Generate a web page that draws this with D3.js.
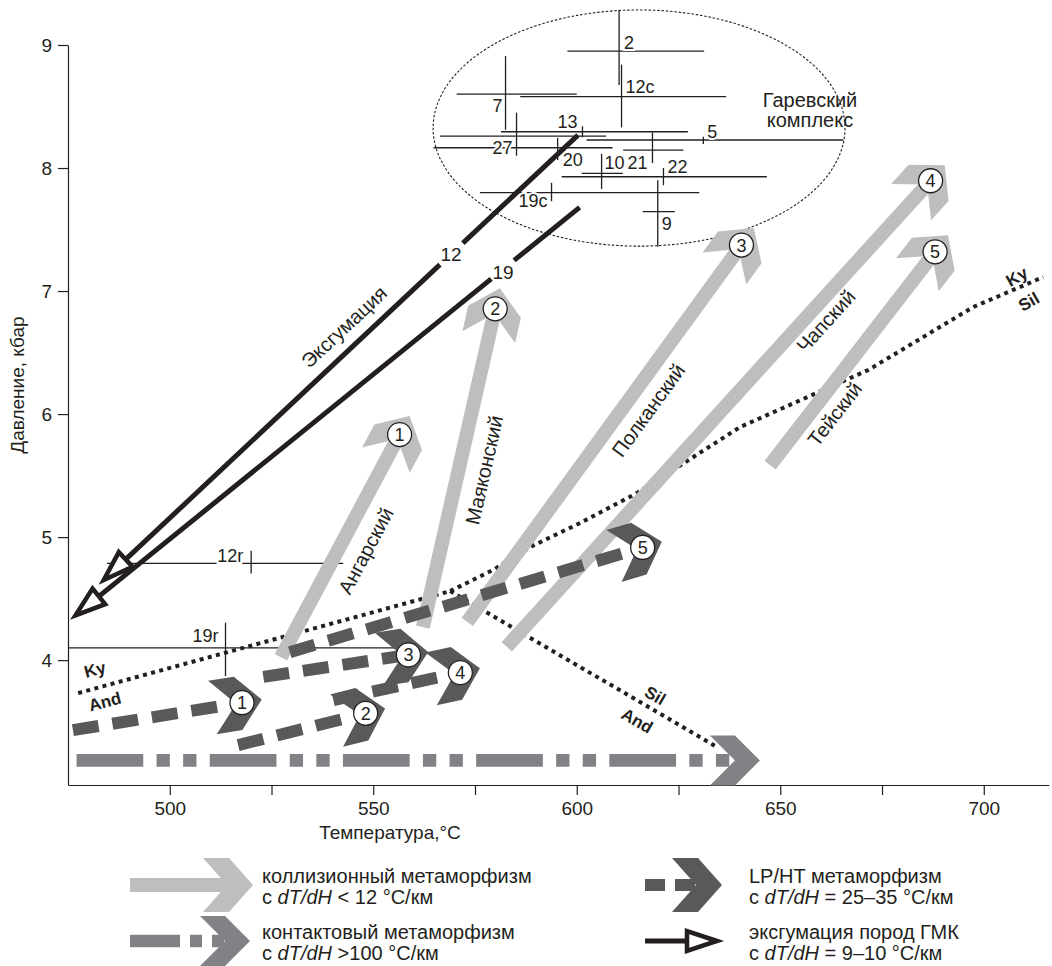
<!doctype html>
<html>
<head>
<meta charset="utf-8">
<title>P-T тренды метаморфизма</title>
<script src="https://cdn.jsdelivr.net/npm/d3@7"></script>
<style>
  body { margin: 0; background: #fff; }
  text { font-family: "Liberation Sans", Arial, sans-serif; fill: #231f20; }
</style>
</head>
<body>
<svg id="chart" width="1052" height="966"></svg>
<script>
// ---------- data (T in °C, P in kbar) ----------
const tempTicks = [500, 525, 550, 575, 600, 625, 650, 675, 700];
const tempLabels = [500, 550, 600, 650, 700];
const pressTicks = [4, 5, 6, 7, 8, 9];

// P-T estimates with error bars
const crossData = [
  {id: "2",   t: 610.4, p: 8.95,  tMin: 597.7, tMax: 631.3, pMin: 8.675, pMax: 9.285},
  {id: "12c", t: 611.0, p: 8.58,  tMin: 586.1, tMax: 636.7, pMin: 8.33,  pMax: 8.84},
  {id: "7",   t: 582.5, p: 8.60,  tMin: 570.5, tMax: 600.0, pMin: 8.31,  pMax: 8.91},
  {id: "27",  t: 585.2, p: 8.26,  tMin: 566.4, tMax: 607.2, pMin: 8.10,  pMax: 8.45},
  {id: "13",  t: 601.4, p: 8.295, tMin: 581.4, tMax: 627.3, pMin: 8.25,  pMax: 8.34},
  {id: "5",   t: 631.1, p: 8.228, tMin: 602.4, tMax: 665.5, pMin: 8.195, pMax: 8.255},
  {id: "20",  t: 595.3, p: 8.165, tMin: 564.8, tMax: 608.8, pMin: 8.065, pMax: 8.245},
  {id: "21",  t: 618.6, p: 8.146, tMin: 611.4, tMax: 626.2, pMin: 8.04,  pMax: 8.29},
  {id: "10",  t: 606.1, p: 7.957, tMin: 601.2, tMax: 611.3, pMin: 7.83,  pMax: 8.115},
  {id: "22",  t: 621.3, p: 7.929, tMin: 596.3, tMax: 646.7, pMin: 7.86,  pMax: 8.00},
  {id: "19c", t: 593.8, p: 7.80,  tMin: 576.2, tMax: 630.1, pMin: 7.73,  pMax: 7.88},
  {id: "9",   t: 619.9, p: 7.645, tMin: 616.2, tMax: 624.1, pMin: 7.36,  pMax: 7.90},
  {id: "12r", t: 520.0, p: 4.786, tMin: 484.6, tMax: 542.6, pMin: 4.705, pMax: 4.889},
  {id: "19r", t: 513.7, p: 4.10,  tMin: 475.0, tMax: 559.0, pMin: 3.87,  pMax: 4.305}
];

const garevEllipse = {t: 615.3, p: 8.325, dt: 50.6, dp: 0.96};

// Al2SiO5 boundaries
const kyAnd = [[477.5, 3.732], [568.9, 4.561]];
const kySil = [[568.9, 4.561], [579.4, 4.732], [588.5, 4.919], [600.8, 5.114], [614.8, 5.358],
               [640.1, 5.894], [671.6, 6.358], [697.4, 6.870], [714.6, 7.114]];
const andSil = [[568.9, 4.561], [634.4, 3.295]];

// collision metamorphism (light grey)
const collision = [
  {id: 1, name: "Ангарский",  from: [527.3, 4.024], to: [558.9, 5.984]},
  {id: 2, name: "Маяконский", from: [562.2, 4.268], to: [581.1, 7.022]},
  {id: 3, name: "Полканский", from: [573.1, 4.311], to: [643.5, 7.512]},
  {id: 4, name: "Чапский",    from: [582.8, 4.108], to: [690.4, 8.023]},
  {id: 5, name: "Тейский",    from: [647.5, 5.585], to: [691.2, 7.454]}
];

// LP/HT metamorphism (dark grey dashed)
const lpht = [
  {id: 1, from: [476.2, 3.431], to: [522.6, 3.680]},
  {id: 2, from: [516.8, 3.309], to: [552.9, 3.607]},
  {id: 3, from: [523.0, 3.864], to: [563.5, 4.067]},
  {id: 4, from: [540.2, 3.675], to: [576.2, 3.933]},
  {id: 5, from: [529.5, 4.065], to: [620.9, 4.962]}
];

// contact metamorphism
const contact = {from: [477.1, 3.185], to: [645.0, 3.185]};

// exhumation
const exhumation = [
  {id: "12", from: [600.3, 8.268], to: [482.9, 4.624]},
  {id: "19", from: [600.7, 7.680], to: [475.9, 4.339]}
];

// ---------- layout ----------
const black = "#231f20", lightGray = "#bcbec0", darkGray = "#58595b", midGray = "#808285";
const HEAD = {h: 24, w: 27, t: 26};

// label offsets for the crosses: dx, dy (px), anchor
const crossLabelPos = {
  "2": [5, -9, "start"], "12c": [4, -10, "start"], "7": [-3, 11, "end"], "27": [-4, 11, "end"],
  "13": [-5, -10, "end"], "5": [4, -8, "start"], "20": [5, 12, "start"], "21": [-5, 12, "end"],
  "10": [3, -11, "start"], "22": [4, -10, "start"], "19c": [-4, 8, "end"], "9": [4, 12, "start"],
  "12r": [-8, -8, "end"], "19r": [-7, -12, "end"]
};
// collision arrow names: fraction along the arrow, side offset (px)
const collisionLabelPos = [[0.49, 25], [0.48, 25], [0.57, 22], [0.70, 17], [0.275, 20]];
// gaps in exhumation lines (fractions of length) for the labels
const exhGap = [[0.241, 0.289], [0.129, 0.174]];
const exhLabelPos = [[451, 254], [503, 272]];

const phaseLabels = [
  {text: "Ky", x: 95, y: 670, r: -15}, {text: "And", x: 105, y: 702, r: -15},
  {text: "Sil", x: 655, y: 696, r: 30}, {text: "And", x: 637, y: 721, r: 30},
  {text: "Ky", x: 1017, y: 277, r: -30}, {text: "Sil", x: 1029, y: 302, r: -30}
];

const svg = d3.select("#chart");

const x = d3.scaleLinear().domain([475, 716]).range([68, 1048.9]);
const y = d3.scaleLinear().domain([2.985, 9]).range([785, 45]);

// helpers
function unit(a, b) {
  const dx = b[0] - a[0], dy = b[1] - a[1], L = Math.hypot(dx, dy);
  return {u: [dx / L, dy / L], len: L};
}
function along(p, u, a, b) {
  return [p[0] + a * u[0] - b * u[1], p[1] + a * u[1] + b * u[0]];
}
function chevron(tip, u, hd) {
  return [along(tip, u, 0, 0), along(tip, u, -hd.h, -hd.w), along(tip, u, -hd.h - hd.t, -hd.w),
          along(tip, u, -hd.t, 0), along(tip, u, -hd.h - hd.t, hd.w), along(tip, u, -hd.h, hd.w)];
}
const px = d => [x(d[0]), y(d[1])];

function drawChevronArrow(g, p0, p1, color, width, dash, hd) {
  const {u} = unit(p0, p1);
  const end = along(p1, u, -hd.t, 0);
  g.append("line")
    .attr("x1", p0[0]).attr("y1", p0[1]).attr("x2", end[0]).attr("y2", end[1])
    .attr("stroke", color).attr("stroke-width", width)
    .attr("stroke-dasharray", dash);
  g.append("polygon").attr("points", chevron(p1, u, hd).join(" ")).attr("fill", color);
  return u;
}
function drawOpenArrow(g, p0, p1, width, gap) {
  const {u, len} = unit(p0, p1);
  const base = along(p1, u, -35, 0);
  const line = g.append("line")
    .attr("x1", p0[0]).attr("y1", p0[1]).attr("x2", base[0]).attr("y2", base[1])
    .attr("stroke", black).attr("stroke-width", width);
  if (gap) {
    const L = len - 35;
    line.attr("stroke-dasharray", `${gap[0] * len} ${(gap[1] - gap[0]) * len} ${L}`);
  }
  const tri = [along(p1, u, -5, 0), along(p1, u, -35, -10), along(p1, u, -35, 10)];
  g.append("polygon").attr("points", tri.join(" "))
    .attr("fill", "#fff").attr("stroke", black).attr("stroke-width", 4.5)
    .attr("stroke-linejoin", "miter");
}
function numberCircle(g, c, n) {
  g.append("circle").attr("cx", c[0]).attr("cy", c[1]).attr("r", 12)
    .attr("fill", "#fff").attr("stroke", black).attr("stroke-width", 1.3);
  g.append("text").attr("x", c[0]).attr("y", c[1] + 6.5)
    .attr("text-anchor", "middle").attr("font-size", 18).text(n);
}

// ---------- axes ----------
const xAxis = d3.axisBottom(x).tickValues(tempTicks).tickSize(10).tickSizeOuter(0).tickPadding(7)
  .tickFormat(d => tempLabels.includes(d) ? d : "");
svg.append("g").attr("transform", `translate(0,${y.range()[0]})`)
  .call(xAxis)
  .attr("color", black).attr("font-size", 19).attr("font-family", null)
  .call(g => g.selectAll("path, line").attr("stroke-width", 1.2));

const yAxis = d3.axisLeft(y).tickValues(pressTicks).tickSize(10).tickSizeOuter(0).tickPadding(6)
  .tickFormat(d3.format("d"));
svg.append("g").attr("transform", `translate(${x.range()[0]},0)`)
  .call(yAxis)
  .attr("color", black).attr("font-size", 19).attr("font-family", null)
  .call(g => g.selectAll("path, line").attr("stroke-width", 1.2));

svg.append("text").attr("x", 390).attr("y", 839).attr("text-anchor", "middle")
  .attr("font-size", 19).text("Температура,°C");
svg.append("text").attr("transform", "translate(24,385) rotate(-90)").attr("text-anchor", "middle")
  .attr("font-size", 19).text("Давление, кбар");

// ---------- Garevka complex ----------
const plot = svg.append("g");
plot.append("ellipse")
  .attr("cx", x(garevEllipse.t)).attr("cy", y(garevEllipse.p))
  .attr("rx", x(garevEllipse.t + garevEllipse.dt) - x(garevEllipse.t))
  .attr("ry", y(garevEllipse.p - garevEllipse.dp) - y(garevEllipse.p))
  .attr("fill", "none").attr("stroke", black).attr("stroke-width", 1.1)
  .attr("stroke-dasharray", "2.5 1.8");
plot.append("text").attr("x", 810).attr("y", 107).attr("text-anchor", "middle")
  .attr("font-size", 20).text("Гаревский");
plot.append("text").attr("x", 810).attr("y", 127).attr("text-anchor", "middle")
  .attr("font-size", 20).text("комплекс");

const crosses = plot.append("g").attr("stroke", black).attr("stroke-width", 1.3);
crossData.forEach(d => {
  crosses.append("line").attr("x1", x(d.tMin)).attr("x2", x(d.tMax)).attr("y1", y(d.p)).attr("y2", y(d.p));
  crosses.append("line").attr("x1", x(d.t)).attr("x2", x(d.t)).attr("y1", y(d.pMin)).attr("y2", y(d.pMax));
});
crossData.forEach(d => {
  const [dx, dy, anchor] = crossLabelPos[d.id];
  plot.append("text").attr("x", x(d.t) + dx).attr("y", y(d.p) + dy + 6.5)
    .attr("text-anchor", anchor).attr("font-size", 18)
    .attr("stroke", "#fff").attr("stroke-width", 4).attr("paint-order", "stroke")
    .text(d.id);
});

// ---------- Al2SiO5 boundaries ----------
const line = d3.line().x(d => x(d[0])).y(d => y(d[1]));
[kyAnd, kySil, andSil].forEach(pts => {
  plot.append("path").attr("d", line(pts)).attr("fill", "none")
    .attr("stroke", black).attr("stroke-width", 4).attr("stroke-dasharray", "4 4.4");
});
phaseLabels.forEach(l => {
  plot.append("text").attr("transform", `translate(${l.x},${l.y}) rotate(${l.r})`)
    .attr("text-anchor", "middle").attr("dominant-baseline", "central")
    .attr("font-size", 17).attr("font-weight", "bold").text(l.text);
});

// ---------- collision arrows ----------
const circles = [];
const gCol = svg.append("g");
collision.forEach((a, i) => {
  const p0 = px(a.from), p1 = px(a.to);
  const u = drawChevronArrow(gCol, p0, p1, lightGray, 14, null, HEAD);
  circles.push([along(p1, u, -21, 0), a.id]);
  const [f, off] = collisionLabelPos[i];
  const c = along([p0[0] + f * (p1[0] - p0[0]), p0[1] + f * (p1[1] - p0[1])], u, 0, off);
  const ang = Math.atan2(u[1], u[0]) * 180 / Math.PI;
  gCol.append("text").attr("transform", `translate(${c[0]},${c[1]}) rotate(${ang})`)
    .attr("text-anchor", "middle").attr("dominant-baseline", "central")
    .attr("font-size", 20).text(a.name);
});

// ---------- contact metamorphism ----------
const gCon = svg.append("g");
drawChevronArrow(gCon, px(contact.from), px(contact.to), midGray, 12.7,
  "66.7 13.3 13.3 13.3 13.3 13.3", {h: 25, w: 25, t: 25});

// ---------- LP/HT arrows ----------
const gLp = svg.append("g");
lpht.forEach(a => {
  const p1 = px(a.to);
  const u = drawChevronArrow(gLp, px(a.from), p1, darkGray, 12, "26 14", HEAD);
  circles.push([along(p1, u, -20, 0), a.id]);
});

const gCirc = svg.append("g");
circles.forEach(([c, n]) => numberCircle(gCirc, c, n));

// ---------- exhumation ----------
const gEx = svg.append("g");
exhumation.forEach((e, i) => {
  drawOpenArrow(gEx, px(e.from), px(e.to), 5, exhGap[i]);
  gEx.append("text").attr("x", exhLabelPos[i][0]).attr("y", exhLabelPos[i][1] + 7)
    .attr("text-anchor", "middle").attr("font-size", 19).text(e.id);
});
{
  const {u} = unit(px(exhumation[0].to), px(exhumation[0].from));
  const ang = Math.atan2(u[1], u[0]) * 180 / Math.PI;
  gEx.append("text").attr("transform", `translate(344,327) rotate(${ang})`)
    .attr("text-anchor", "middle").attr("dominant-baseline", "central")
    .attr("font-size", 20).text("Эксгумация");
}

// ---------- legend ----------
const leg = svg.append("g");
drawChevronArrow(leg, [130, 885], [253, 885], lightGray, 14, null, HEAD);
drawChevronArrow(leg, [130, 941], [250, 941], midGray, 12.7, "50 10 12 10 12 10", {h: 25, w: 25, t: 25});
drawChevronArrow(leg, [645, 885], [722, 885], darkGray, 12, "20 10", HEAD);
drawOpenArrow(leg, [645, 941], [722, 941], 5, null);

const legendText = [
  {x: 262, y: 883, a: "коллизионный метаморфизм", b: "< 12 °C/км"},
  {x: 262, y: 939, a: "контактовый метаморфизм", b: ">100 °C/км"},
  {x: 749, y: 883, a: "LP/HT метаморфизм", b: "= 25–35 °C/км"},
  {x: 749, y: 939, a: "эксгумация пород ГМК", b: "= 9–10 °C/км"}
];
legendText.forEach(l => {
  leg.append("text").attr("x", l.x).attr("y", l.y).attr("font-size", 20).text(l.a);
  const t2 = leg.append("text").attr("x", l.x).attr("y", l.y + 21).attr("font-size", 20);
  t2.append("tspan").text("с ");
  t2.append("tspan").attr("font-style", "italic").text("dT/dH");
  t2.append("tspan").text(" " + l.b);
});
</script>
</body>
</html>
